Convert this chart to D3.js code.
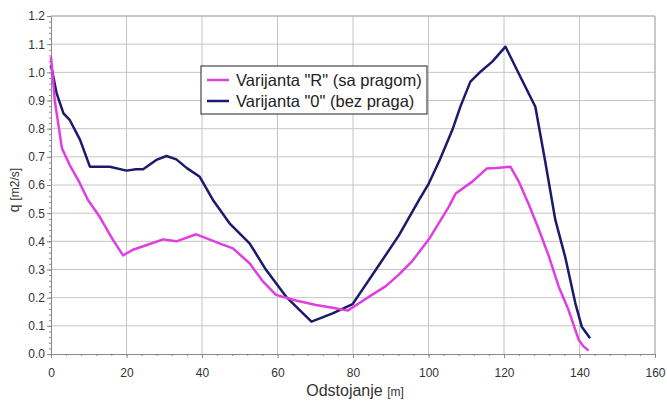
<!DOCTYPE html>
<html><head><meta charset="utf-8">
<script src="https://cdn.jsdelivr.net/npm/d3@7"></script>
<style>body{margin:0;background:#fff}svg{display:block}</style>
</head><body><svg id="c" width="667" height="405"></svg>
<script>
const xTicks = [0,20,40,60,80,100,120,140,160];
const yTicks = [0,0.1,0.2,0.3,0.4,0.5,0.6,0.7,0.8,0.9,1.0,1.1,1.2];
const seriesNames = ['Varijanta "R" (sa pragom)', 'Varijanta "0" (bez praga)'];
const xR = [0,1,2.9,5,7.5,9.8,12.9,16.4,19.1,21.7,25,29.7,33.2,38.5,44.6,48.2,52.6,56,59.6,64.9,70.2,74.6,78.6,81.6,85,88.7,92,95.7,100.1,105.4,107.2,111.6,115.5,118,121.7,124,126.6,129,131.8,134.5,137.1,139.8,141,142.4];
const qR = [1.055,0.9,0.73,0.67,0.61,0.547,0.487,0.405,0.35,0.37,0.385,0.407,0.40,0.425,0.393,0.375,0.322,0.26,0.21,0.19,0.174,0.164,0.154,0.18,0.21,0.241,0.28,0.33,0.407,0.523,0.57,0.612,0.659,0.66,0.665,0.61,0.53,0.45,0.35,0.239,0.156,0.05,0.028,0.012];
const x0 = [0,1.5,3.3,5,7.7,10.3,15.6,20,22.5,24.4,27.9,30.6,33.2,36,39.4,42.9,47.3,52.6,57,62.3,69,74.6,79.9,86,92.2,97.5,100.1,103,106.3,108.5,111.1,114,116.9,120.4,123.9,128.3,131,133.6,136.2,138.9,140.6,142.8];
const q0 = [1.026,0.925,0.854,0.83,0.76,0.665,0.665,0.651,0.656,0.656,0.689,0.703,0.691,0.66,0.629,0.547,0.464,0.393,0.298,0.203,0.115,0.144,0.177,0.298,0.422,0.547,0.606,0.69,0.795,0.88,0.967,1.005,1.038,1.091,0.996,0.878,0.677,0.476,0.345,0.18,0.097,0.056];
const colors = ['#e03ee0','#1c1a6a'];

const svg = d3.select('#c');
const L=51, R=655, T=16, B=354;
const F='Liberation Sans, Arial, sans-serif';
const x = d3.scaleLinear().domain([0,160]).range([L,R]);
const y = d3.scaleLinear().domain([0,1.2]).range([B,T]);

// grid
svg.append('g').selectAll('line').data(yTicks.slice(1)).join('line')
  .attr('x1',L).attr('x2',R).attr('y1',d=>y(d)).attr('y2',d=>y(d))
  .attr('stroke','#c4c4c4').attr('stroke-width',1);
svg.append('g').selectAll('line').data(xTicks.slice(1)).join('line')
  .attr('x1',d=>x(d)).attr('x2',d=>x(d)).attr('y1',T).attr('y2',B)
  .attr('stroke','#c4c4c4').attr('stroke-width',1);

// axes
const gx = svg.append('g').attr('transform',`translate(0,${B})`)
  .call(d3.axisBottom(x).tickValues(xTicks).tickSize(4).tickFormat(d3.format('d')));
const gxm = svg.append('g').attr('transform',`translate(0,${B})`)
  .call(d3.axisBottom(x).tickValues(d3.range(0,161,4)).tickSize(2).tickFormat(''));
const gy = svg.append('g').attr('transform',`translate(${L},0)`)
  .call(d3.axisLeft(y).tickValues(yTicks).tickSize(4).tickFormat(d3.format('.1f')));
const gym = svg.append('g').attr('transform',`translate(${L},0)`)
  .call(d3.axisLeft(y).tickValues(d3.range(0,1.2001,0.02)).tickSize(2).tickFormat(''));
[gx,gxm,gy,gym].forEach(g=>{
  g.selectAll('path').attr('stroke','#8a8a8a');
  g.selectAll('line').attr('stroke','#8a8a8a');
  g.selectAll('text').attr('fill','#333').attr('font-family',F).attr('font-size',12);
});
gx.selectAll('text').attr('y',14).attr('dy','0.71em');
gy.selectAll('text').attr('x',-6);

// border
svg.append('line').attr('x1',R).attr('x2',R).attr('y1',T).attr('y2',B).attr('stroke','#b0b0b0');
svg.append('line').attr('x1',L).attr('x2',R).attr('y1',T).attr('y2',T).attr('stroke','#b0b0b0');

// lines
const line = d3.line().x(d=>x(d[0])).y(d=>y(d[1]));
svg.append('path').datum(x0.map((v,i)=>[v,q0[i]])).attr('d',line)
  .attr('fill','none').attr('stroke',colors[1]).attr('stroke-width',2.5).attr('stroke-linejoin','round');
svg.append('path').datum(xR.map((v,i)=>[v,qR[i]])).attr('d',line)
  .attr('fill','none').attr('stroke',colors[0]).attr('stroke-width',2.5).attr('stroke-linejoin','round');

// titles
const xt = svg.append('text').attr('x',355).attr('y',396).attr('text-anchor','middle')
  .attr('font-family',F).attr('fill','#333');
xt.append('tspan').attr('font-size',16).text('Odstojanje ');
xt.append('tspan').attr('font-size',12).text('[m]');
const yt = svg.append('text').attr('transform','translate(19,190) rotate(-90)').attr('text-anchor','middle')
  .attr('font-family',F).attr('fill','#333');
yt.append('tspan').attr('font-size',14).text('q ');
yt.append('tspan').attr('font-size',12).text('[m2/s]');

// legend
const lg = svg.append('g');
lg.append('rect').attr('x',201).attr('y',66).attr('width',226).attr('height',48)
  .attr('fill','#fff').attr('stroke','#222').attr('stroke-width',1);
seriesNames.forEach((n,i)=>{
  const cy = 80 + i*21;
  lg.append('line').attr('x1',207).attr('x2',229).attr('y1',cy).attr('y2',cy)
    .attr('stroke',colors[i]).attr('stroke-width',2.5);
  lg.append('text').attr('x',236).attr('y',cy+5.5).attr('font-size',16.5)
    .attr('font-family',F).attr('fill','#222').text(n);
});
</script></body></html>
